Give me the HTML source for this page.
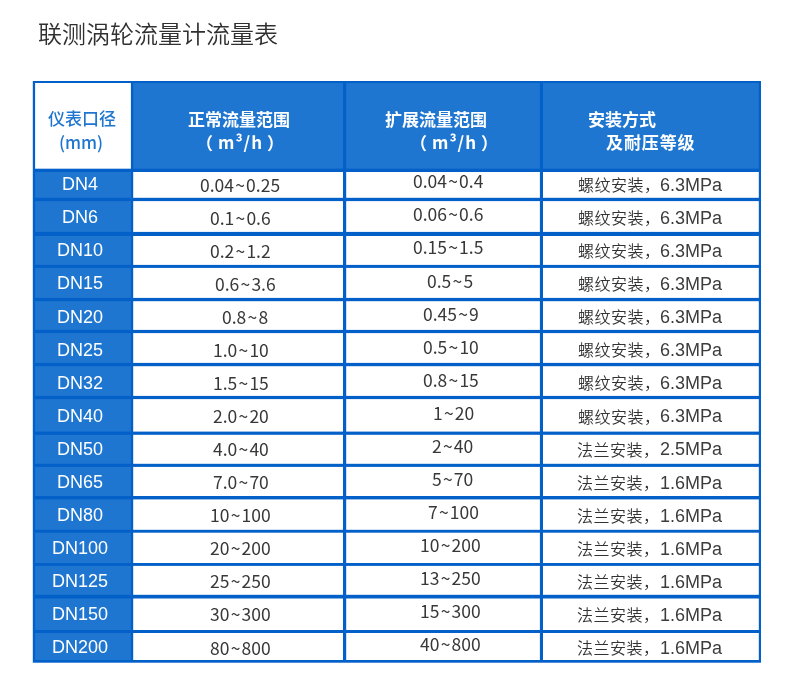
<!DOCTYPE html>
<html lang="zh"><head><meta charset="utf-8"><title>联测涡轮流量计流量表</title>
<style>
html,body{margin:0;padding:0;background:#fff;}
body{width:790px;height:690px;position:relative;overflow:hidden;font-family:"Liberation Sans","Noto Sans CJK SC",sans-serif;}
.grid{position:absolute;left:0;top:0;display:block;}
.t{position:absolute;white-space:nowrap;line-height:1;margin:0;}
.ttl{font-size:24px;font-weight:350;color:#303030;font-family:"Noto Sans CJK SC",sans-serif;}
.dn{font-size:18px;font-family:"Liberation Sans",sans-serif;color:#fff;}
.num{font-size:17.5px;font-family:"Noto Sans CJK SC","Liberation Sans",sans-serif;color:#383838;}
.num span{margin:0 1.2px;}
.lat{font-size:18px;font-family:"Liberation Sans",sans-serif;color:#3c3c3c;}
.cj{letter-spacing:0.5px;font-size:16px;font-weight:350;font-family:"Noto Sans CJK SC",sans-serif;color:#333;}
.h{font-weight:700;font-size:17px;font-family:"Noto Sans CJK SC",sans-serif;color:#fff;}
.hm{letter-spacing:1px;font-weight:700;font-size:17px;font-family:"Noto Sans CJK SC",sans-serif;color:#fff;}
.h1c{font-weight:500;font-size:17px;font-family:"Noto Sans CJK SC",sans-serif;color:#1f76d0;}
.h1d{font-weight:500;font-size:17px;font-family:"Noto Sans CJK SC",sans-serif;color:#1f76d0;}
</style></head><body>

<svg class="grid" width="790" height="690" viewBox="0 0 790 690">
<rect x="32.8" y="81" width="728.2" height="581.7" fill="#0260c8"/>
<rect x="35.1" y="83" width="95.8" height="85.7" fill="#fff"/>
<rect x="133.2" y="83" width="209.8" height="85.7" fill="#1f76d0"/>
<rect x="346.2" y="83" width="193.7" height="85.7" fill="#1f76d0"/>
<rect x="543" y="83" width="215.8" height="85.7" fill="#1f76d0"/>
<rect x="35.1" y="172" width="95.8" height="25.8" fill="#1f76d0"/>
<rect x="133.2" y="172" width="209.8" height="25.8" fill="#fff"/>
<rect x="346.2" y="172" width="193.7" height="25.8" fill="#fff"/>
<rect x="543" y="172" width="215.8" height="25.8" fill="#fff"/>
<rect x="35.1" y="201.1" width="95.8" height="30.8" fill="#1f76d0"/>
<rect x="133.2" y="201.1" width="209.8" height="30.8" fill="#fff"/>
<rect x="346.2" y="201.1" width="193.7" height="30.8" fill="#fff"/>
<rect x="543" y="201.1" width="215.8" height="30.8" fill="#fff"/>
<rect x="35.1" y="236" width="95.8" height="28.9" fill="#1f76d0"/>
<rect x="133.2" y="236" width="209.8" height="28.9" fill="#fff"/>
<rect x="346.2" y="236" width="193.7" height="28.9" fill="#fff"/>
<rect x="543" y="236" width="215.8" height="28.9" fill="#fff"/>
<rect x="35.1" y="267.9" width="95.8" height="30" fill="#1f76d0"/>
<rect x="133.2" y="267.9" width="209.8" height="30" fill="#fff"/>
<rect x="346.2" y="267.9" width="193.7" height="30" fill="#fff"/>
<rect x="543" y="267.9" width="215.8" height="30" fill="#fff"/>
<rect x="35.1" y="301.2" width="95.8" height="28.7" fill="#1f76d0"/>
<rect x="133.2" y="301.2" width="209.8" height="28.7" fill="#fff"/>
<rect x="346.2" y="301.2" width="193.7" height="28.7" fill="#fff"/>
<rect x="543" y="301.2" width="215.8" height="28.7" fill="#fff"/>
<rect x="35.1" y="333.1" width="95.8" height="29.8" fill="#1f76d0"/>
<rect x="133.2" y="333.1" width="209.8" height="29.8" fill="#fff"/>
<rect x="346.2" y="333.1" width="193.7" height="29.8" fill="#fff"/>
<rect x="543" y="333.1" width="215.8" height="29.8" fill="#fff"/>
<rect x="35.1" y="366.2" width="95.8" height="29.7" fill="#1f76d0"/>
<rect x="133.2" y="366.2" width="209.8" height="29.7" fill="#fff"/>
<rect x="346.2" y="366.2" width="193.7" height="29.7" fill="#fff"/>
<rect x="543" y="366.2" width="215.8" height="29.7" fill="#fff"/>
<rect x="35.1" y="399.1" width="95.8" height="32.5" fill="#1f76d0"/>
<rect x="133.2" y="399.1" width="209.8" height="32.5" fill="#fff"/>
<rect x="346.2" y="399.1" width="193.7" height="32.5" fill="#fff"/>
<rect x="543" y="399.1" width="215.8" height="32.5" fill="#fff"/>
<rect x="35.1" y="434.8" width="95.8" height="29" fill="#1f76d0"/>
<rect x="133.2" y="434.8" width="209.8" height="29" fill="#fff"/>
<rect x="346.2" y="434.8" width="193.7" height="29" fill="#fff"/>
<rect x="543" y="434.8" width="215.8" height="29" fill="#fff"/>
<rect x="35.1" y="466.9" width="95.8" height="29.1" fill="#1f76d0"/>
<rect x="133.2" y="466.9" width="209.8" height="29.1" fill="#fff"/>
<rect x="346.2" y="466.9" width="193.7" height="29.1" fill="#fff"/>
<rect x="543" y="466.9" width="215.8" height="29.1" fill="#fff"/>
<rect x="35.1" y="499.4" width="95.8" height="30.4" fill="#1f76d0"/>
<rect x="133.2" y="499.4" width="209.8" height="30.4" fill="#fff"/>
<rect x="346.2" y="499.4" width="193.7" height="30.4" fill="#fff"/>
<rect x="543" y="499.4" width="215.8" height="30.4" fill="#fff"/>
<rect x="35.1" y="532.7" width="95.8" height="30.3" fill="#1f76d0"/>
<rect x="133.2" y="532.7" width="209.8" height="30.3" fill="#fff"/>
<rect x="346.2" y="532.7" width="193.7" height="30.3" fill="#fff"/>
<rect x="543" y="532.7" width="215.8" height="30.3" fill="#fff"/>
<rect x="35.1" y="565.9" width="95.8" height="28.9" fill="#1f76d0"/>
<rect x="133.2" y="565.9" width="209.8" height="28.9" fill="#fff"/>
<rect x="346.2" y="565.9" width="193.7" height="28.9" fill="#fff"/>
<rect x="543" y="565.9" width="215.8" height="28.9" fill="#fff"/>
<rect x="35.1" y="598.5" width="95.8" height="31.5" fill="#1f76d0"/>
<rect x="133.2" y="598.5" width="209.8" height="31.5" fill="#fff"/>
<rect x="346.2" y="598.5" width="193.7" height="31.5" fill="#fff"/>
<rect x="543" y="598.5" width="215.8" height="31.5" fill="#fff"/>
<rect x="35.1" y="633" width="95.8" height="27" fill="#1f76d0"/>
<rect x="133.2" y="633" width="209.8" height="27" fill="#fff"/>
<rect x="346.2" y="633" width="193.7" height="27" fill="#fff"/>
<rect x="543" y="633" width="215.8" height="27" fill="#fff"/>
</svg>
<h1 class="t ttl" id="h1" style="left:38px;top:21px;">联测涡轮流量计流量表</h1>
<div class="t h1c" id="h0a" style="left:48px;top:109px;">仪表口径</div>
<div class="t h1d" id="h0b" style="left:59px;top:133px;">(mm)</div>
<div class="t h" id="h1a" style="left:188px;top:110px;">正常流量范围</div>
<div class="t h" id="h1l" style="left:196px;top:134px;">（</div>
<div class="t hm" id="h1m" style="left:218px;top:133px;">m³/h</div>
<div class="t h" id="h1r" style="left:267px;top:134px;">）</div>
<div class="t h" id="h2a" style="left:385px;top:110px;">扩展流量范围</div>
<div class="t h" id="h2l" style="left:410px;top:134px;">（</div>
<div class="t hm" id="h2m" style="left:432px;top:133px;">m³/h</div>
<div class="t h" id="h2r" style="left:481px;top:134px;">）</div>
<div class="t h" id="h3a" style="left:588px;top:110px;">安装方式</div>
<div class="t h" id="h3b" style="left:606px;top:133px;letter-spacing:0.9px;">及耐压等级</div>
<div class="t dn" id="a0" style="left:62px;top:175px;">DN4</div>
<div class="t num" id="b0" style="left:200px;top:176px;">0.04<span>~</span>0.25</div>
<div class="t num" id="c0" style="left:413px;top:172px;">0.04<span>~</span>0.4</div>
<div class="t cj" id="d0" style="left:578px;top:176px;">螺纹安装，</div>
<div class="t lat" id="e0" style="left:660px;top:176px;">6.3MPa</div>
<div class="t dn" id="a1" style="left:62px;top:208px;">DN6</div>
<div class="t num" id="b1" style="left:210px;top:209px;">0.1<span>~</span>0.6</div>
<div class="t num" id="c1" style="left:413px;top:205px;">0.06<span>~</span>0.6</div>
<div class="t cj" id="d1" style="left:578px;top:209px;">螺纹安装，</div>
<div class="t lat" id="e1" style="left:660px;top:209px;">6.3MPa</div>
<div class="t dn" id="a2" style="left:57px;top:241px;">DN10</div>
<div class="t num" id="b2" style="left:210px;top:242px;">0.2<span>~</span>1.2</div>
<div class="t num" id="c2" style="left:413px;top:238px;">0.15<span>~</span>1.5</div>
<div class="t cj" id="d2" style="left:578px;top:242px;">螺纹安装，</div>
<div class="t lat" id="e2" style="left:660px;top:242px;">6.3MPa</div>
<div class="t dn" id="a3" style="left:57px;top:274px;">DN15</div>
<div class="t num" id="b3" style="left:215px;top:275px;">0.6<span>~</span>3.6</div>
<div class="t num" id="c3" style="left:427px;top:272px;">0.5<span>~</span>5</div>
<div class="t cj" id="d3" style="left:578px;top:275px;">螺纹安装，</div>
<div class="t lat" id="e3" style="left:660px;top:275px;">6.3MPa</div>
<div class="t dn" id="a4" style="left:57px;top:308px;">DN20</div>
<div class="t num" id="b4" style="left:222px;top:308px;">0.8<span>~</span>8</div>
<div class="t num" id="c4" style="left:423px;top:305px;">0.45<span>~</span>9</div>
<div class="t cj" id="d4" style="left:578px;top:308px;">螺纹安装，</div>
<div class="t lat" id="e4" style="left:660px;top:308px;">6.3MPa</div>
<div class="t dn" id="a5" style="left:57px;top:341px;">DN25</div>
<div class="t num" id="b5" style="left:213px;top:341px;">1.0<span>~</span>10</div>
<div class="t num" id="c5" style="left:423px;top:338px;">0.5<span>~</span>10</div>
<div class="t cj" id="d5" style="left:578px;top:341px;">螺纹安装，</div>
<div class="t lat" id="e5" style="left:660px;top:341px;">6.3MPa</div>
<div class="t dn" id="a6" style="left:57px;top:374px;">DN32</div>
<div class="t num" id="b6" style="left:213px;top:374px;">1.5<span>~</span>15</div>
<div class="t num" id="c6" style="left:423px;top:371px;">0.8<span>~</span>15</div>
<div class="t cj" id="d6" style="left:578px;top:374px;">螺纹安装，</div>
<div class="t lat" id="e6" style="left:660px;top:374px;">6.3MPa</div>
<div class="t dn" id="a7" style="left:57px;top:407px;">DN40</div>
<div class="t num" id="b7" style="left:213px;top:407px;">2.0<span>~</span>20</div>
<div class="t num" id="c7" style="left:433px;top:404px;">1<span>~</span>20</div>
<div class="t cj" id="d7" style="left:578px;top:408px;">螺纹安装，</div>
<div class="t lat" id="e7" style="left:660px;top:407px;">6.3MPa</div>
<div class="t dn" id="a8" style="left:57px;top:440px;">DN50</div>
<div class="t num" id="b8" style="left:213px;top:440px;">4.0<span>~</span>40</div>
<div class="t num" id="c8" style="left:432px;top:437px;">2<span>~</span>40</div>
<div class="t cj" id="d8" style="left:577px;top:441px;">法兰安装，</div>
<div class="t lat" id="e8" style="left:660px;top:440px;">2.5MPa</div>
<div class="t dn" id="a9" style="left:57px;top:473px;">DN65</div>
<div class="t num" id="b9" style="left:213px;top:473px;">7.0<span>~</span>70</div>
<div class="t num" id="c9" style="left:432px;top:470px;">5<span>~</span>70</div>
<div class="t cj" id="d9" style="left:577px;top:474px;">法兰安装，</div>
<div class="t lat" id="e9" style="left:660px;top:474px;">1.6MPa</div>
<div class="t dn" id="a10" style="left:57px;top:506px;">DN80</div>
<div class="t num" id="b10" style="left:210px;top:506px;">10<span>~</span>100</div>
<div class="t num" id="c10" style="left:428px;top:503px;">7<span>~</span>100</div>
<div class="t cj" id="d10" style="left:577px;top:507px;">法兰安装，</div>
<div class="t lat" id="e10" style="left:660px;top:507px;">1.6MPa</div>
<div class="t dn" id="a11" style="left:52px;top:539px;">DN100</div>
<div class="t num" id="b11" style="left:210px;top:539px;">20<span>~</span>200</div>
<div class="t num" id="c11" style="left:420px;top:536px;">10<span>~</span>200</div>
<div class="t cj" id="d11" style="left:577px;top:540px;">法兰安装，</div>
<div class="t lat" id="e11" style="left:660px;top:540px;">1.6MPa</div>
<div class="t dn" id="a12" style="left:52px;top:572px;">DN125</div>
<div class="t num" id="b12" style="left:210px;top:572px;">25<span>~</span>250</div>
<div class="t num" id="c12" style="left:420px;top:569px;">13<span>~</span>250</div>
<div class="t cj" id="d12" style="left:577px;top:573px;">法兰安装，</div>
<div class="t lat" id="e12" style="left:660px;top:573px;">1.6MPa</div>
<div class="t dn" id="a13" style="left:52px;top:605px;">DN150</div>
<div class="t num" id="b13" style="left:210px;top:605px;">30<span>~</span>300</div>
<div class="t num" id="c13" style="left:420px;top:602px;">15<span>~</span>300</div>
<div class="t cj" id="d13" style="left:577px;top:606px;">法兰安装，</div>
<div class="t lat" id="e13" style="left:660px;top:606px;">1.6MPa</div>
<div class="t dn" id="a14" style="left:52px;top:638px;">DN200</div>
<div class="t num" id="b14" style="left:210px;top:639px;">80<span>~</span>800</div>
<div class="t num" id="c14" style="left:420px;top:635px;">40<span>~</span>800</div>
<div class="t cj" id="d14" style="left:577px;top:639px;">法兰安装，</div>
<div class="t lat" id="e14" style="left:660px;top:639px;">1.6MPa</div>
</body></html>
